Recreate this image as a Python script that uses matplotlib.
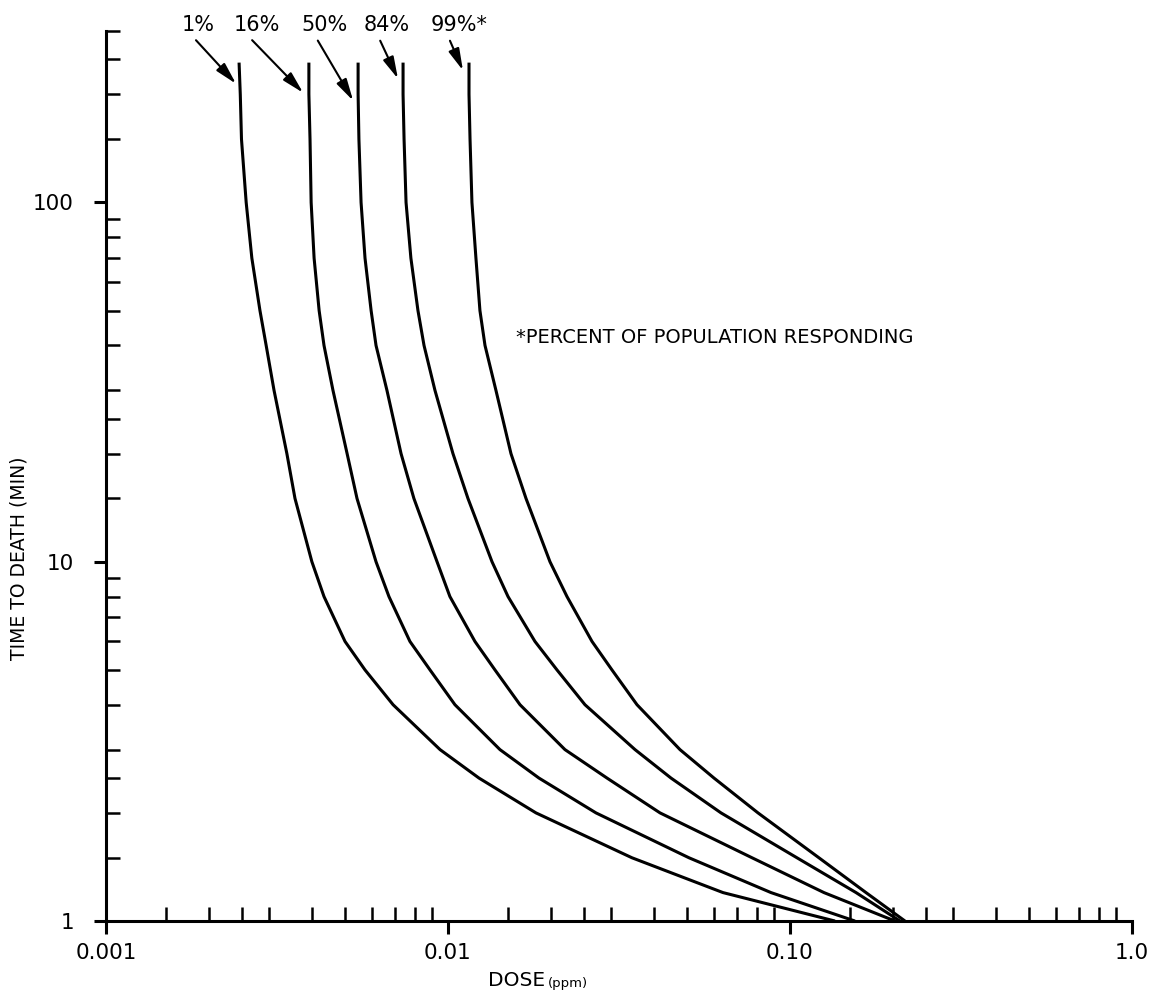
import matplotlib
matplotlib.use("Agg")
import matplotlib.pyplot as plt
from matplotlib.ticker import FixedLocator, FixedFormatter, NullFormatter

# tiempo hasta la muerte (min) en el que se lee cada dosis
tiempo = [245, 200, 150, 100, 70, 50, 40, 30, 20, 15, 10, 8, 6, 5, 4, 3, 2.5, 2, 1.5, 1.2, 1.0]

# dosis (ppm) para cada porcentaje de la poblacion
dosis_1 = [0.00245, 0.00247, 0.00249, 0.00257, 0.00267, 0.00282, 0.00294, 0.00310, 0.00338, 0.00357,
           0.00400, 0.00434, 0.00500, 0.00572, 0.00691, 0.00948, 0.01232, 0.01808, 0.03451, 0.0637, 0.1354]
dosis_16 = [0.00392, 0.00392, 0.00395, 0.00398, 0.00406, 0.00420, 0.00434, 0.00461, 0.00507, 0.00542,
            0.00616, 0.00672, 0.00774, 0.00886, 0.01048, 0.01419, 0.01845, 0.02708, 0.05066, 0.0880, 0.1549]
dosis_50 = [0.00546, 0.00546, 0.00549, 0.00557, 0.00572, 0.00596, 0.00616, 0.00663, 0.00729, 0.00795,
            0.00929, 0.01013, 0.01199, 0.01372, 0.01624, 0.02198, 0.02917, 0.04168, 0.07745, 0.1257, 0.2028]
dosis_84 = [0.00739, 0.00739, 0.00744, 0.00754, 0.00779, 0.00817, 0.00851, 0.00916, 0.01034, 0.01144,
            0.01345, 0.01498, 0.01796, 0.02083, 0.02515, 0.03523, 0.04488, 0.06284, 0.1048, 0.1560, 0.2097]
dosis_99 = [0.01152, 0.01152, 0.01160, 0.01175, 0.01207, 0.01240, 0.01283, 0.01381, 0.01528, 0.01691,
            0.01987, 0.02228, 0.02637, 0.03016, 0.03570, 0.04768, 0.05995, 0.08061, 0.1215, 0.1668, 0.2169]

curvas = [dosis_1, dosis_16, dosis_50, dosis_84, dosis_99]
etiquetas = ["1%", "16%", "50%", "84%", "99%*"]

x_mayor = [0.001, 0.01, 0.1, 1.0]
x_mayor_txt = ["0.001", "0.01", "0.10", "1.0"]
y_mayor = [1, 10, 100]
y_mayor_txt = ["1", "10", "100"]

fig = plt.figure(figsize=(11.71, 9.94), dpi=100)
ax = fig.add_axes([0.0905, 0.0734, 0.8762, 0.8954])

for d in curvas:
    ax.plot(d, tiempo, color="black", lw=2.2, solid_capstyle="butt", solid_joinstyle="round")

ax.set_xscale("log")
ax.set_yscale("log")
ax.set_xlim(0.001, 1.0)
ax.set_ylim(1, 300)

ax.xaxis.set_major_locator(FixedLocator(x_mayor))
ax.xaxis.set_major_formatter(FixedFormatter(x_mayor_txt))
ax.yaxis.set_major_locator(FixedLocator(y_mayor))
ax.yaxis.set_major_formatter(FixedFormatter(y_mayor_txt))

pasos = [1.5, 2, 2.5, 3, 4, 5, 6, 7, 8, 9]
x_menor = [p * 10.0 ** e for e in (-3, -2, -1) for p in pasos]
y_menor = [p * 10.0 ** e for e in (0, 1) for p in pasos] + [150, 200, 250, 300]
ax.xaxis.set_minor_locator(FixedLocator(x_menor))
ax.yaxis.set_minor_locator(FixedLocator(y_menor))
ax.xaxis.set_minor_formatter(NullFormatter())
ax.yaxis.set_minor_formatter(NullFormatter())

ax.spines["top"].set_visible(False)
ax.spines["right"].set_visible(False)
ax.spines["left"].set_linewidth(2.2)
ax.spines["bottom"].set_linewidth(2.2)

ax.tick_params(which="major", direction="out", length=9, width=2.2, labelsize=15.5)
ax.tick_params(axis="x", which="major", pad=7)
ax.tick_params(axis="y", which="major", pad=14)
ax.tick_params(which="minor", direction="in", length=10, width=1.8)

# flechas hacia el inicio de cada curva
puntas = [(0.00240, 214), (0.00377, 202), (0.00528, 192), (0.00714, 221), (0.01106, 233)]
textos_x = [0.00186, 0.00276, 0.00434, 0.00663, 0.01077]
for etq, punta, tx in zip(etiquetas, puntas, textos_x):
    ax.annotate(etq, xy=punta, xytext=(tx, 311), ha="center", va="center", fontsize=15,
                annotation_clip=False,
                arrowprops=dict(arrowstyle="-|>,head_length=1.1,head_width=0.28", color="black",
                                lw=1.5, mutation_scale=12, relpos=(0.3, 0.0), shrinkA=2, shrinkB=0))

ax.text(0.0158, 42, "*PERCENT OF POPULATION RESPONDING", fontsize=14, va="center", ha="left")

fig.text(0.016, 0.4386, "TIME TO DEATH (MIN)", rotation=90, ha="center", va="center", fontsize=13.5)
fig.text(0.417, 0.004, "DOSE", fontsize=14.5, ha="left", va="bottom")
fig.text(0.468, 0.004, "(ppm)", fontsize=9.5, ha="left", va="bottom")

plt.savefig("out.png", dpi=100)
